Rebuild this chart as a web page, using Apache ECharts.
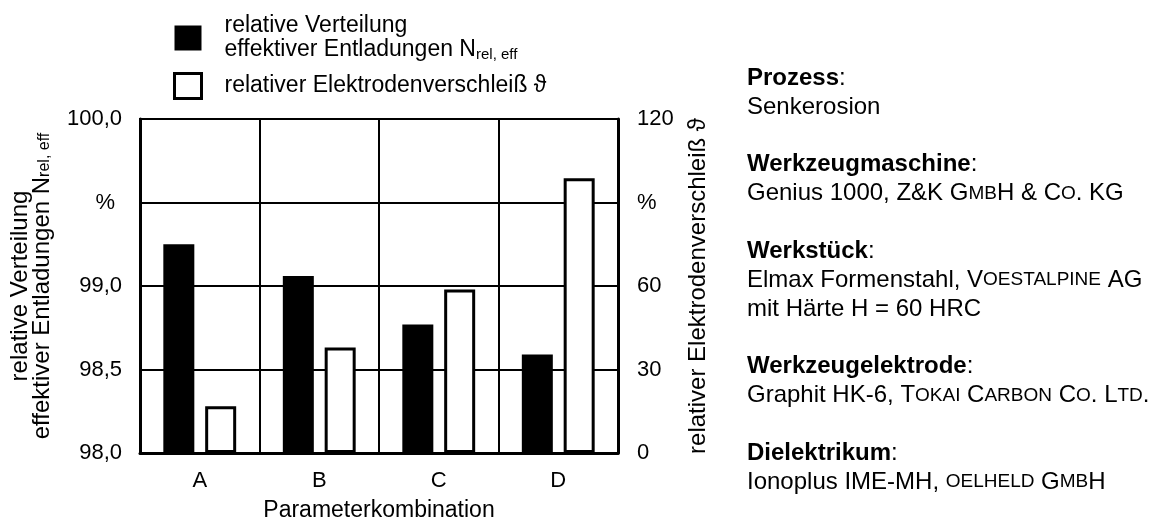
<!DOCTYPE html>
<html>
<head>
<meta charset="utf-8">
<script src="https://cdn.jsdelivr.net/npm/echarts@6/dist/echarts.min.js"></script>
<style>
html, body { margin: 0; background: #fff; }
#chart { width: 1158px; height: 527px; }
</style>
</head>
<body>
<div id="chart"></div>
<script>
// Daten
const categories = ['A', 'B', 'C', 'D'];
const entladungen = [99.25, 99.06, 98.77, 98.59];   // N_rel,eff in %
const verschleiss = [16.8, 37.9, 58.7, 98.7];       // Elektrodenverschleiss in %
const leftTicks = [98, 98.5, 99, 99.5, 100];
const leftLabels = ['98,0', '98,5', '99,0', '%', '100,0'];
const rightTicks = [0, 30, 60, 90, 120];
const rightLabels = ['0', '30', '60', '%', '120'];

// Versuchsbedingungen (rechts)
const infoBlocks = [
    ['{b|Prozess}:', 'Senkerosion'],
    ['{b|Werkzeugmaschine}:', 'Genius 1000, Z&K G{sc|MB}H & C{sc|O}. KG'],
    ['{b|Werkstück}:', 'Elmax Formenstahl, V{sc|OESTALPINE} AG', 'mit Härte H = 60 HRC'],
    ['{b|Werkzeugelektrode}:', 'Graphit HK-6, T{sc|OKAI} C{sc|ARBON} C{sc|O}. L{sc|TD}.'],
    ['{b|Dielektrikum}:', 'Ionoplus IME-MH, {sc|OELHELD} G{sc|MB}H']
];

const font = "'Liberation Sans', Arial, sans-serif";
const fs = 22;      // Achsbeschriftung
const fsName = 24;  // Achsentitel
const fsInfo = 24;  // Textblock rechts
const fsLeg = 23;   // Legende

function tickLabel(ticks, labels) {
    return function (v) {
        const i = ticks.findIndex(t => Math.abs(t - v) < 1e-6);
        if (i < 0) return '';
        return labels[i] === '%' ? '{p|%}' : labels[i];
    }
}

// Textblock rechts aufbauen
const graphics = [];
let y = 66;
infoBlocks.forEach(function (block) {
    block.forEach(function (line) {
        graphics.push({
            type: 'text',
            left: 747,
            top: y,
            style: {
                text: line,
                fill: '#000',
                font: fsInfo + 'px ' + font,
                rich: {
                    b: { fontWeight: 'bold', fontSize: fsInfo, fontFamily: font },
                    sc: { fontSize: 19, fontFamily: font }
                }
            }
        });
        y += 29;
    });
    y += 28.5;
});

const myChart = echarts.init(document.getElementById('chart'), null, { renderer: 'canvas' });

const option = {
    animation: false,
    textStyle: { fontFamily: font, color: '#000' },
    grid: {
        left: 140, right: 540, top: 119, bottom: 68,
        show: true, borderColor: '#000', borderWidth: 2
    },
    legend: {
        orient: 'vertical',
        left: 173,
        top: 14,
        padding: 0,
        itemWidth: 27,
        itemHeight: 25,
        itemGap: 10,
        icon: 'rect',
        data: ['N', 'V'],
        formatter: function (name) {
            return name === 'N'
                ? 'relative Verteilung\neffektiver Entladungen N{sub|rel, eff}'
                : 'relativer Elektrodenverschleiß ϑ';
        },
        itemStyle: { borderWidth: 3 },
        textStyle: {
            fontSize: fsLeg, color: '#000', fontFamily: font, lineHeight: 24, padding: [0, 0, 0, 18],
            rich: { sub: { fontSize: 15, fontFamily: font, verticalAlign: 'bottom', lineHeight: 15 } }
        }
    },
    xAxis: {
        type: 'category',
        data: categories,
        axisLine: { lineStyle: { color: '#000', width: 3 } },
        axisTick: { show: false },
        axisLabel: { color: '#000', fontSize: fs, fontFamily: font, margin: 17 },
        splitLine: { show: true, lineStyle: { color: '#000', width: 2 } },
        name: 'Parameterkombination',
        nameLocation: 'middle',
        nameGap: 46,
        nameTextStyle: { color: '#000', fontSize: fsName - 1, fontFamily: font }
    },
    yAxis: [{
        type: 'value',
        position: 'left',
        min: 98, max: 100, interval: 0.5,
        axisLine: { show: true, lineStyle: { color: '#000', width: 3 } },
        axisTick: { show: false },
        splitLine: { show: true, lineStyle: { color: '#000', width: 2 } },
        axisLabel: {
            color: '#000', fontSize: fs, fontFamily: font, margin: 18,
            formatter: tickLabel(leftTicks, leftLabels),
            rich: { p: { fontSize: fs, fontFamily: font, padding: [0, 7, 0, 0] } }
        },
        name: 'relative Verteilung\neffektiver Entladungen N{sub|rel, eff}',
        nameLocation: 'middle',
        nameRotate: 90,
        nameGap: 87,
        nameTextStyle: {
            color: '#000', fontSize: fsName, fontFamily: font, lineHeight: 22, align: 'center',
            rich: { sub: { fontSize: 16, fontFamily: font, verticalAlign: 'bottom', lineHeight: 16 } }
        }
    }, {
        type: 'value',
        position: 'right',
        min: 0, max: 120, interval: 30,
        axisLine: { show: true, lineStyle: { color: '#000', width: 3 } },
        axisTick: { show: false },
        splitLine: { show: false },
        axisLabel: {
            color: '#000', fontSize: fs, fontFamily: font, margin: 19,
            formatter: tickLabel(rightTicks, rightLabels),
            rich: { p: { fontSize: fs, fontFamily: font } }
        },
        name: 'relativer Elektrodenverschleiß ϑ',
        nameLocation: 'middle',
        nameRotate: 90,
        nameGap: 68,
        nameTextStyle: { color: '#000', fontSize: fsName, fontFamily: font }
    }],
    series: [{
        name: 'N',
        type: 'bar',
        yAxisIndex: 0,
        data: entladungen,
        barWidth: 31,
        barGap: '35%',
        itemStyle: { color: '#000' }
    }, {
        name: 'V',
        type: 'bar',
        yAxisIndex: 1,
        data: verschleiss,
        barWidth: 31,
        itemStyle: { color: '#fff', borderColor: '#000', borderWidth: 3 }
    }],
    graphic: graphics
};

myChart.setOption(option);
</script>
</body>
</html>
